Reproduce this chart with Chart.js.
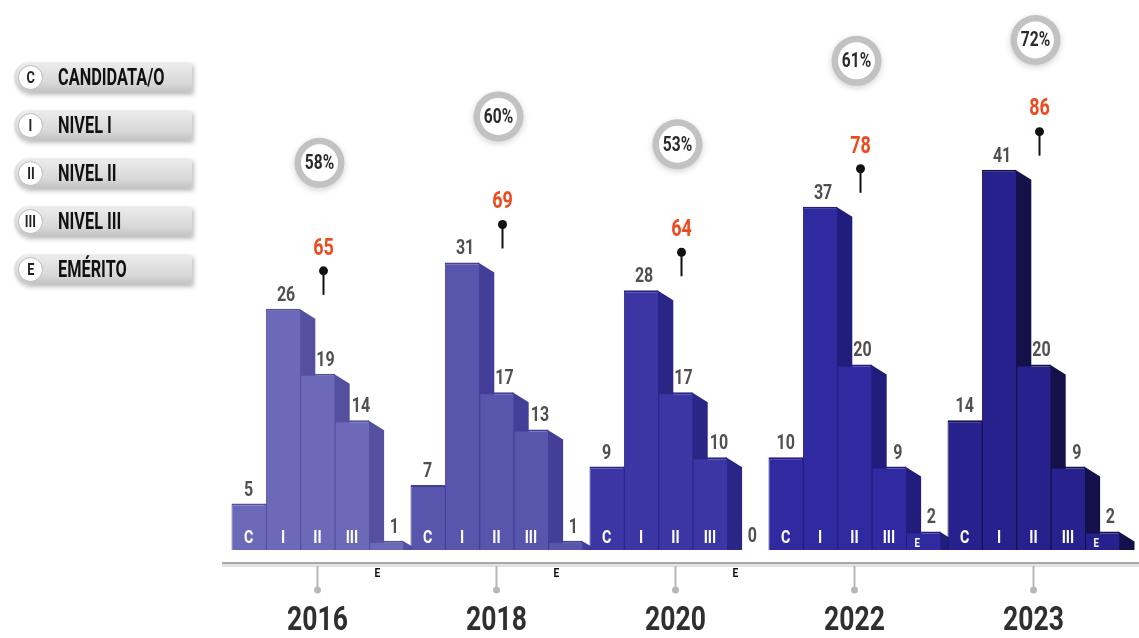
<!DOCTYPE html>
<html>
<head>
<meta charset="utf-8">
<script src="https://cdn.jsdelivr.net/npm/chart.js@4"></script>
<style>
  body { margin: 0; background: #fff; }
  #wrap { position: relative; width: 1139px; height: 638px; }
  #legend { position: absolute; left: 14px; top: 62px; }
  .pill { position: relative; width: 178px; height: 30px; margin-bottom: 18px;
    border-radius: 15px 3px 3px 15px;
    background: linear-gradient(#ededed, #d8d8d8 70%, #c4c4c4);
    box-shadow: 2px 3px 4px rgba(0,0,0,0.25); }
  .badge { position: absolute; left: 4px; top: 3px; width: 23px; height: 23px; border-radius: 50%;
    background: #fff; border: 1px solid #bbb; font: bold 17px Roboto, sans-serif; color: #222;
    text-align: center; line-height: 23px; }
  .badge span, .name span { display: inline-block; transform: scaleX(0.75); }
  .name { position: absolute; left: 44px; top: 3px; font: bold 24px Roboto, sans-serif; color: #111;
    line-height: 24px; white-space: nowrap; }
  .name span { transform: scaleX(0.68); transform-origin: left center; }
</style>
</head>
<body>
<div id="wrap">
  <canvas id="myChart"></canvas>
  <div id="legend"></div>
</div>
<script>
var years = ["2016", "2018", "2020", "2022", "2023"];
var levels = ["C", "I", "II", "III", "E"];
var levelNames = ["CANDIDATA/O", "NIVEL I", "NIVEL II", "NIVEL III", "EMÉRITO"];

var candidata = [5, 7, 9, 10, 14];
var nivel1 = [26, 31, 28, 37, 41];
var nivel2 = [19, 17, 17, 20, 20];
var nivel3 = [14, 13, 10, 9, 9];
var emerito = [1, 1, 0, 2, 2];

var totals = [65, 69, 64, 78, 86];
var percents = ["58%", "60%", "53%", "61%", "72%"];

// one colour per year, getting darker
var yearColors = ["#6c69b9", "#5855ad", "#3b36a4", "#2f2a9f", "#26218c"];
var sideColors = ["#54509f", "#433f99", "#2a2686", "#211d7c", "#13104a"];

var series = [candidata, nivel1, nivel2, nivel3, emerito];

// legend pills on the left
var legendHtml = "";
for (var i = 0; i < levels.length; i++) {
  legendHtml += '<div class="pill"><div class="badge"><span>' + levels[i] + '</span></div>' +
    '<div class="name"><span>' + levelNames[i] + '</span></div></div>';
}
document.getElementById("legend").innerHTML = legendHtml;

function txt(ctx, s, x, y, size, color, sx) {
  ctx.save();
  ctx.translate(x, y);
  ctx.scale(sx || 0.8, 1);
  ctx.font = "bold " + size + "px Roboto";
  ctx.fillStyle = color;
  ctx.textAlign = "center";
  ctx.textBaseline = "middle";
  ctx.fillText(s, 0, 0);
  ctx.restore();
}

// value labels sit a little to the right, past the side face of the bar before
var labelShift = [0, 3, 8, 9, 8];

var sidePlugin = {
  id: "sides",
  // darker side faces behind every bar
  beforeDatasetsDraw: function(chart) {
    var ctx = chart.ctx;
    chart.data.datasets.forEach(function(ds, d) {
      var meta = chart.getDatasetMeta(d);
      meta.data.forEach(function(el, i) {
        if (ds.data[i] <= 0) return;
        var rx = el.x + el.width / 2;
        var dy = Math.min(10, el.base - el.y);
        ctx.fillStyle = sideColors[i];
        ctx.beginPath();
        ctx.moveTo(rx - 1, el.y);
        ctx.lineTo(rx + 15, el.y + dy);
        ctx.lineTo(rx + 15, el.base);
        ctx.lineTo(rx - 1, el.base);
        ctx.closePath();
        ctx.fill();
      });
    });
  },
  afterDatasetsDraw: function(chart) {
    var ctx = chart.ctx;
    var yScale = chart.scales.y;
    var xScale = chart.scales.x;
    var base = yScale.getPixelForValue(0);

    // axis ledge
    ctx.fillStyle = "#e2e2e2";
    ctx.fillRect(222, base + 13, 917, 4);
    ctx.fillStyle = "#a8a8a8";
    ctx.fillRect(222, base + 12, 917, 2);

    chart.data.datasets.forEach(function(ds, d) {
      var meta = chart.getDatasetMeta(d);
      meta.data.forEach(function(el, i) {
        var v = ds.data[i];
        txt(ctx, String(v), el.x + labelShift[d], el.y - 13, 20, "#505050", 0.8);
        if (levels[d] === "E") {
          if (el.base - el.y >= 15) {
            txt(ctx, "E", el.x - 6, base - 6, 12, "#ffffff", 0.8);
          } else {
            txt(ctx, "E", el.x - 9, base + 24, 12, "#111111", 0.85);
          }
        } else {
          txt(ctx, levels[d], el.x, base - 12, 19, "#ffffff", 0.75);
        }
      });
    });

    // year pins, totals, percentage rings
    years.forEach(function(yr, i) {
      var cx = xScale.getPixelForValue(i);
      ctx.strokeStyle = "#b8b8b8";
      ctx.lineWidth = 2;
      ctx.beginPath();
      ctx.moveTo(cx, base + 16);
      ctx.lineTo(cx, base + 38);
      ctx.stroke();
      ctx.fillStyle = "#b8b8b8";
      ctx.beginPath();
      ctx.arc(cx, base + 40, 3.5, 0, Math.PI * 2);
      ctx.fill();
      txt(ctx, yr, cx, base + 71, 34, "#2f2f2f", 0.78);

      var mx = Math.max(candidata[i], nivel1[i], nivel2[i], nivel3[i], emerito[i]);
      var dotY = yScale.getPixelForValue(mx) - 38;
      var px = cx + 6;
      ctx.strokeStyle = "#111";
      ctx.lineWidth = 2;
      ctx.beginPath();
      ctx.moveTo(px, dotY);
      ctx.lineTo(px, dotY + 24);
      ctx.stroke();
      ctx.fillStyle = "#111";
      ctx.beginPath();
      ctx.arc(px, dotY, 4.5, 0, Math.PI * 2);
      ctx.fill();
      var labelY = dotY - 22;
      txt(ctx, String(totals[i]), px, labelY, 23, "#ec4a1f", 0.78);

      var cy = Math.max(labelY - 86, 40);
      var ccx = cx + 2;
      ctx.save();
      ctx.shadowColor = "rgba(0,0,0,0.18)";
      ctx.shadowBlur = 6;
      ctx.shadowOffsetY = 2;
      ctx.fillStyle = "#c2c2c2";
      ctx.beginPath();
      ctx.arc(ccx, cy, 25, 0, Math.PI * 2);
      ctx.fill();
      ctx.restore();
      ctx.fillStyle = "#ffffff";
      ctx.beginPath();
      ctx.arc(ccx, cy, 18.5, 0, Math.PI * 2);
      ctx.fill();
      txt(ctx, percents[i], ccx, cy + 1, 21, "#2a2a2a", 0.74);
    });
  }
};

var datasets = series.map(function(vals, d) {
  return {
    label: levelNames[d],
    data: vals,
    backgroundColor: yearColors,
    borderColor: sideColors,
    borderWidth: { top: 2, left: 1, right: 0, bottom: 0 },
    borderSkipped: "start",
    categoryPercentage: 0.961,
    barPercentage: 1
  };
});

var ctx = document.getElementById("myChart").getContext("2d");
var chart = new Chart(ctx, {
  type: "bar",
  data: { labels: years, datasets: datasets },
  options: {
    responsive: true,
    maintainAspectRatio: false,
    animation: false,
    layout: { padding: { left: 228, right: 16, top: 12, bottom: 88 } },
    plugins: { legend: { display: false }, tooltip: { enabled: false } },
    scales: {
      x: { display: false },
      y: { display: false, min: 0, max: 58 }
    }
  },
  plugins: [sidePlugin]
});
</script>
</body>
</html>
